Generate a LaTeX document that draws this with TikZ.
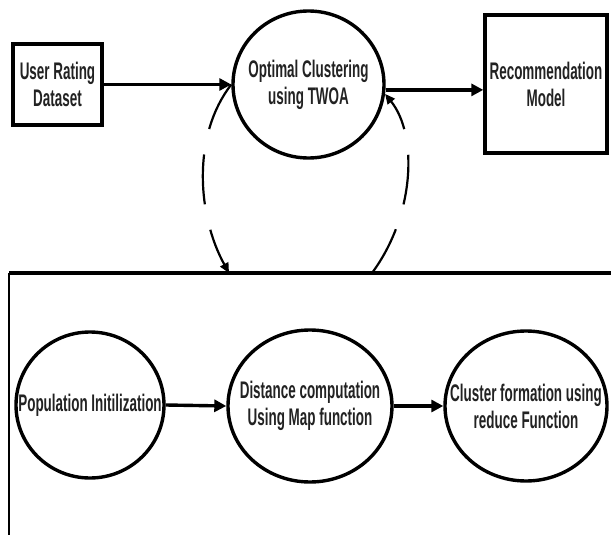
\documentclass[tikz,border=0pt]{standalone}
\usepackage{fontspec}
\setmainfont{Liberation Sans}
\usepackage{xcolor}
\usepackage{tikz}
\usetikzlibrary{arrows.meta,shapes.geometric}
\definecolor{inkgray}{HTML}{222222}
\newcommand{\narrowtxt}[1]{\makebox[0pt]{\scalebox{0.56}[1]{#1}}}

\begin{document}
\begin{tikzpicture}[x=1pt, y=-1pt, line width=3.4pt,
    boxnode/.style={rectangle, draw=black, fill=white, inner sep=0pt,
                    align=center, text=inkgray,
                    font=\fontsize{24}{27}\selectfont\bfseries},
    procnode/.style={ellipse, draw=black, fill=white, inner sep=0pt,
                     align=center, text=inkgray,
                     font=\fontsize{24}{27}\selectfont\bfseries},
    flow/.style={line width=3.4pt, -{Triangle[length=12pt, width=12pt]}},
    loopflow/.style={line width=2.2pt, dash pattern=on 50pt off 26pt,
                     -{Triangle[length=10pt, width=9pt]}}]
  \useasboundingbox (0,0) rectangle (611,535);
  % the top row: data, clustering, model
  \node[boxnode, minimum width=89, minimum height=81] (data) at (57.5,84.5)
    {\narrowtxt{User Rating}\\\narrowtxt{Dataset}};
  \node[procnode, minimum width=151, minimum height=147] (twoa) at (308.5,84.5)
    {\narrowtxt{Optimal Clustering}\\\narrowtxt{using TWOA}};
  \node[boxnode, minimum width=122, minimum height=138] (recmodel) at (546,84)
    {\narrowtxt{Recommendation}\\\narrowtxt{Model}};
  \draw[flow] (data.east) -- (twoa.west);
  \draw[flow] (twoa.-4) -- (twoa.-4 -| recmodel.west);
  % the frame round the map-reduce stage, open to the right and below
  \coordinate (frametl) at (9,273);
  \coordinate (frameinL) at (229,273);
  \coordinate (frameoutR) at (372,273);
  \draw[line width=3.2pt] (frametl) -- (611,273);
  \draw[line width=2.2pt] (frametl) -- (9,535);
  % the loop down into the frame and back up
  \draw[loopflow] (twoa.west) .. controls (192,135) and (197,215) .. (frameinL);
  \draw[loopflow] (frameoutR) .. controls (415,215) and (418,135) .. (twoa.-7);
  % the bottom row: the three steps
  \node[procnode, minimum width=148, minimum height=146] (popinit) at (90,405)
    {\narrowtxt{Population Initilization}};
  \node[procnode, minimum width=164, minimum height=152] (mapdist) at (310,406)
    {\narrowtxt{Distance computation}\\\narrowtxt{Using Map function}};
  \node[procnode, minimum width=162, minimum height=150] (reducef) at (526,406)
    {\narrowtxt{Cluster formation using}\\\narrowtxt{reduce Function}};
  \draw[flow] (popinit.east) -- (mapdist.west);
  \draw[flow] (mapdist.east) -- (reducef.west);
\end{tikzpicture}
\end{document}
